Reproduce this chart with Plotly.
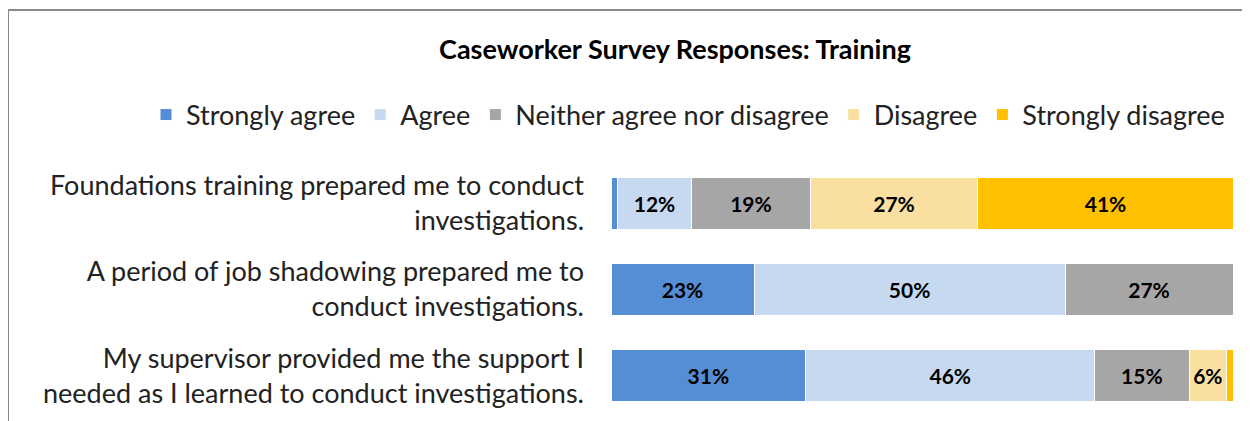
import plotly.graph_objects as go

categories = [
    "Foundations training prepared me to conduct<br>investigations.",
    "A period of job shadowing prepared me to<br>conduct investigations.",
    "My supervisor provided me the support I<br>needed as I learned to conduct investigations.",
]
series_names = ["Strongly agree", "Agree", "Neither agree nor disagree", "Disagree", "Strongly disagree"]
strongly_agree = [1, 23, 31]
agree = [12, 50, 46]
neither = [19, 27, 15]
disagree = [27, 0, 6]
strongly_disagree = [41, 0, 1]
colors = ["#558ED5", "#C6D9F1", "#A6A6A6", "#F9E0A0", "#FFC000"]

FONT = "Lato"
fig = go.Figure()
for name, vals, col in zip(series_names,
                           [strongly_agree, agree, neither, disagree, strongly_disagree],
                           colors):
    fig.add_trace(go.Bar(
        y=categories, x=vals, name=name, orientation="h",
        marker=dict(color=col, line=dict(color="white", width=1)),
        text=[f"{v}%" if v >= 5 else "" for v in vals],
        textposition="inside", insidetextanchor="middle",
        textfont=dict(family=FONT, size=21, color="black", weight="bold"),
        hoverinfo="x+name",
    ))

# page has an 8px body margin; work in figure pixel coordinates
W, H = 1242, 413
ml, mr, mt, mb = 603, 17, 152, 2
pw, ph = W - ml - mr, H - mt - mb

def px_x(p):
    return (p - ml) / pw

def px_y(p):
    return (H - mb - p) / ph

fig.update_layout(
    width=W, height=H,
    barmode="stack", barnorm="percent", bargap=0.4,
    margin=dict(l=ml, r=mr, t=mt, b=mb, autoexpand=False),
    paper_bgcolor="white", plot_bgcolor="white",
    font=dict(family=FONT, size=27, color="#222"),
    title=dict(text="<b>Caseworker Survey Responses: Training</b>",
               x=667 / W, xanchor="center", y=1 - 42 / H, yanchor="middle",
               font=dict(family=FONT, size=27, color="black")),
    legend=dict(orientation="h", xref="paper", x=px_x(138), xanchor="left",
                yref="paper", y=px_y(107), yanchor="middle",
                font=dict(family=FONT, size=27, color="#222"),
                traceorder="normal", itemwidth=30, tracegroupgap=0),
    xaxis=dict(visible=False, range=[0, 100], fixedrange=True),
    yaxis=dict(autorange="reversed", showgrid=False, showline=False,
               ticks="", ticklabelstandoff=26,
               tickfont=dict(family=FONT, size=27, color="#222")),
    shapes=[
        dict(type="line", xref="paper", yref="paper", x0=px_x(0), x1=px_x(W),
             y0=px_y(2), y1=px_y(2), line=dict(color="#888888", width=2)),
        dict(type="line", xref="paper", yref="paper", x0=px_x(0), x1=px_x(0),
             y0=px_y(2), y1=px_y(H), line=dict(color="#888888", width=2)),
    ],
)
fig.write_html("out.html")
